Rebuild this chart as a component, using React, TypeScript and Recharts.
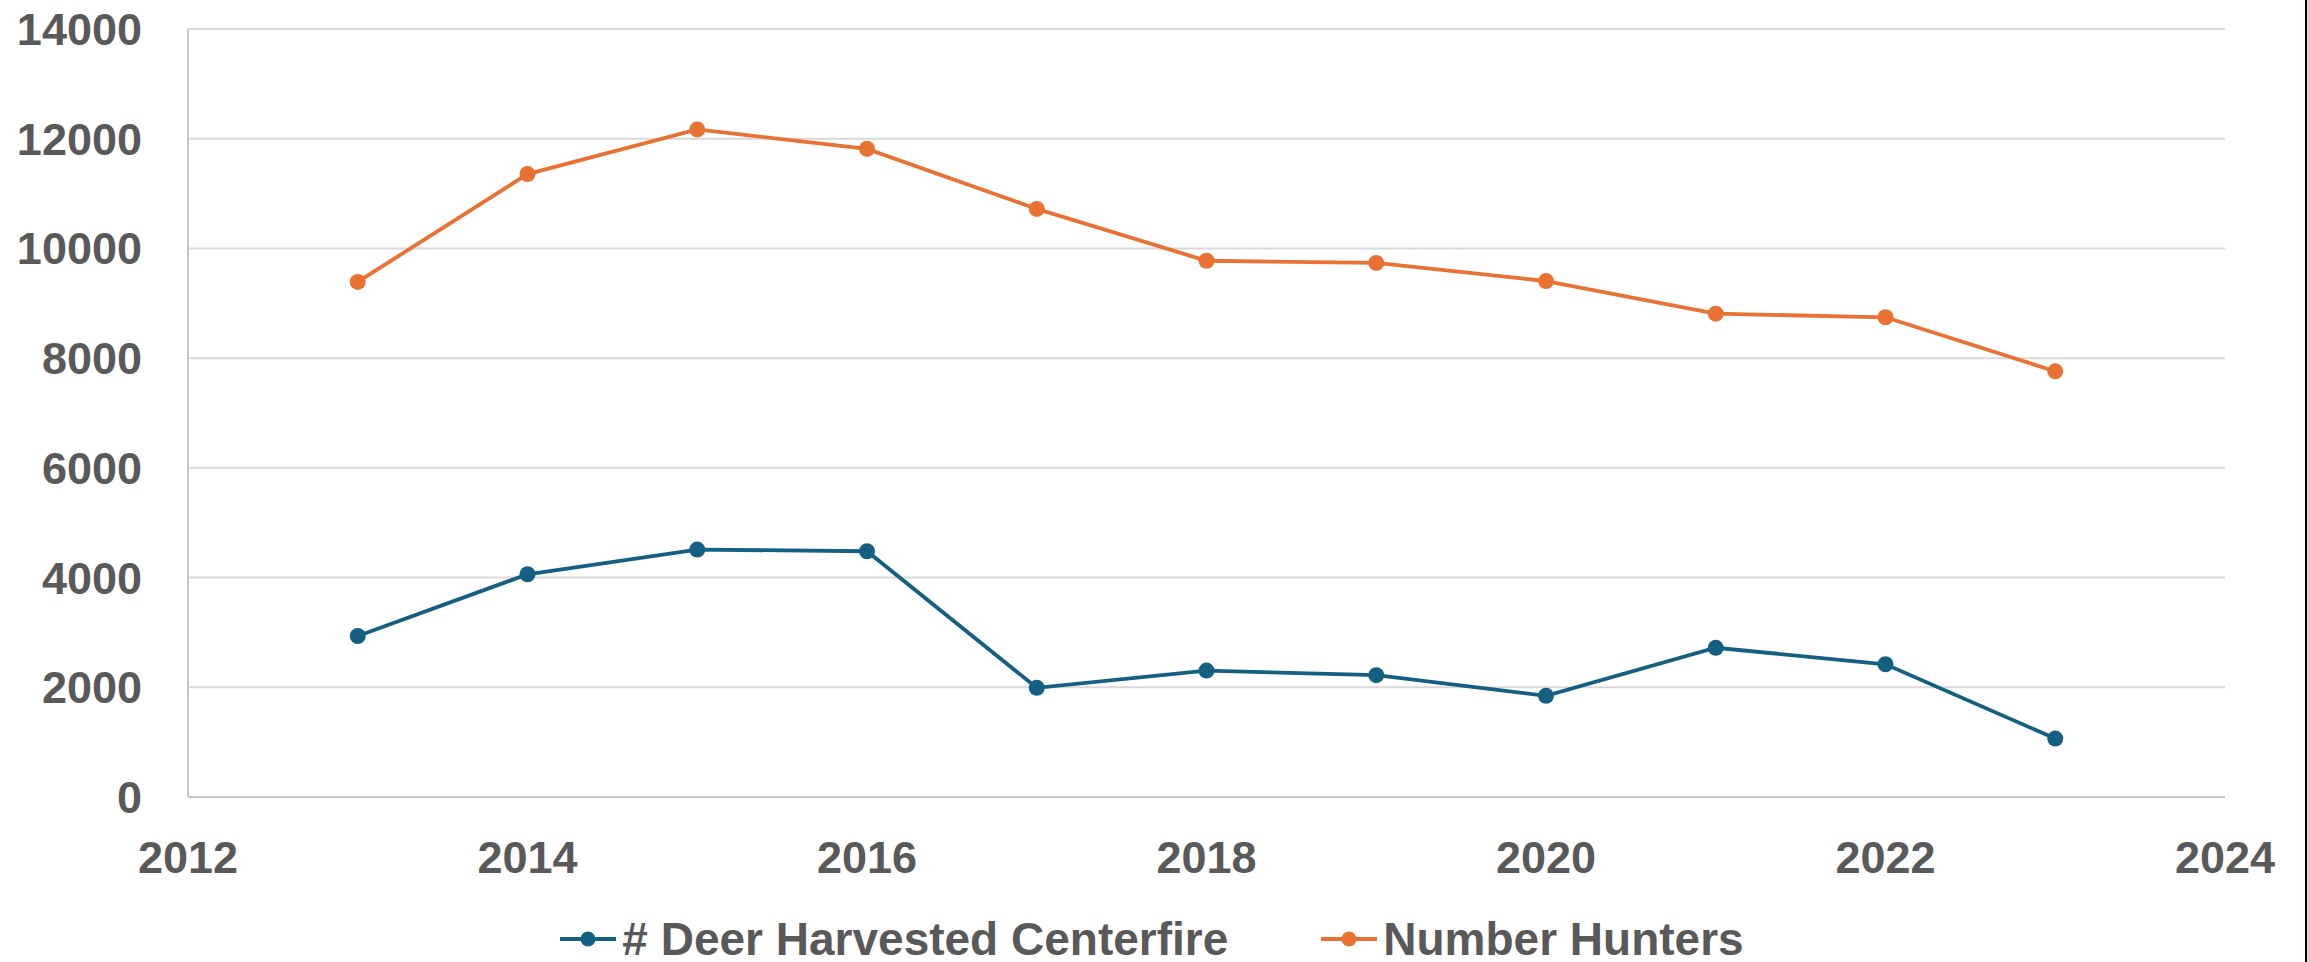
import { CartesianGrid, Legend, Line, LineChart, XAxis, YAxis } from 'recharts';

const years = [2013, 2014, 2015, 2016, 2017, 2018, 2019, 2020, 2021, 2022, 2023];
const deerHarvested = [2935, 4060, 4510, 4480, 1990, 2305, 2220, 1845, 2720, 2420, 1065];
const numberHunters = [9390, 11355, 12170, 11815, 10720, 9775, 9735, 9405, 8810, 8745, 7760];

const xTicks = [2012, 2014, 2016, 2018, 2020, 2022, 2024];
const yTicks = [0, 2000, 4000, 6000, 8000, 10000, 12000, 14000];

const SERIES = [
  { key: 'deer', name: '# Deer Harvested Centerfire', color: '#156082' },
  { key: 'hunters', name: 'Number Hunters', color: '#E97132' }
];

const FONT = '"Liberation Sans", Arial, sans-serif';
const TEXT_COLOR = '#595959';

const chartData = years.map((year, i) => ({
  year,
  deer: deerHarvested[i],
  hunters: numberHunters[i]
}));

function LegendContent() {
  return (
    <div
      style={{
        display: 'flex',
        justifyContent: 'center',
        alignItems: 'center',
        height: 46,
        fontFamily: FONT,
        fontSize: 46,
        fontWeight: 700,
        color: TEXT_COLOR,
        lineHeight: '46px'
      }}
    >
      {SERIES.map((s, i) => (
        <div
          key={s.key}
          style={{ display: 'flex', alignItems: 'center', marginLeft: i === 0 ? 0 : 93 }}
        >
          <svg width={56} height={20} style={{ marginRight: 6 }}>
            <line x1={0} y1={10} x2={56} y2={10} stroke={s.color} strokeWidth={4} />
            <circle cx={28} cy={10} r={7.5} fill={s.color} />
          </svg>
          <span style={{ whiteSpace: 'nowrap' }}>{s.name}</span>
        </div>
      ))}
    </div>
  );
}

export default function App() {
  const tickStyle = { fill: TEXT_COLOR, fontSize: 45, fontWeight: 700, fontFamily: FONT };

  return (
    <div style={{ position: 'absolute', left: 0, top: 0, width: 2310, height: 962, background: '#FFFFFF' }}>
      <LineChart
        width={2310}
        height={962}
        data={chartData}
        margin={{ top: 29, right: 85, left: 0, bottom: 0 }}
      >
        <CartesianGrid vertical={false} stroke="#D9D9D9" strokeWidth={2} />
        <XAxis
          dataKey="year"
          type="number"
          domain={[2012, 2024]}
          ticks={xTicks}
          tick={tickStyle}
          tickSize={0}
          tickMargin={44}
          height={119}
          axisLine={{ stroke: '#C6C6C6', strokeWidth: 2 }}
          tickLine={false}
        />
        <YAxis
          type="number"
          domain={[0, 14000]}
          ticks={yTicks}
          tick={tickStyle}
          tickSize={0}
          tickMargin={46}
          width={188}
          axisLine={{ stroke: '#C6C6C6', strokeWidth: 2 }}
          tickLine={false}
        />
        <Legend
          verticalAlign="bottom"
          content={<LegendContent />}
          wrapperStyle={{ left: 0, width: 2304, bottom: 0, height: 46 }}
        />
        {SERIES.map((s) => (
          <Line
            key={s.key}
            type="linear"
            dataKey={s.key}
            name={s.name}
            stroke={s.color}
            strokeWidth={3.8}
            dot={{ r: 8, fill: s.color, stroke: s.color, strokeWidth: 0 }}
            activeDot={false}
            isAnimationActive={false}
          />
        ))}
      </LineChart>
      <div style={{ position: 'absolute', left: 2305, top: 0, width: 2, height: 962, background: '#000000' }} />
      <div style={{ position: 'absolute', left: 2307, top: 0, width: 3, height: 962, background: '#DCD6C0' }} />
    </div>
  );
}
